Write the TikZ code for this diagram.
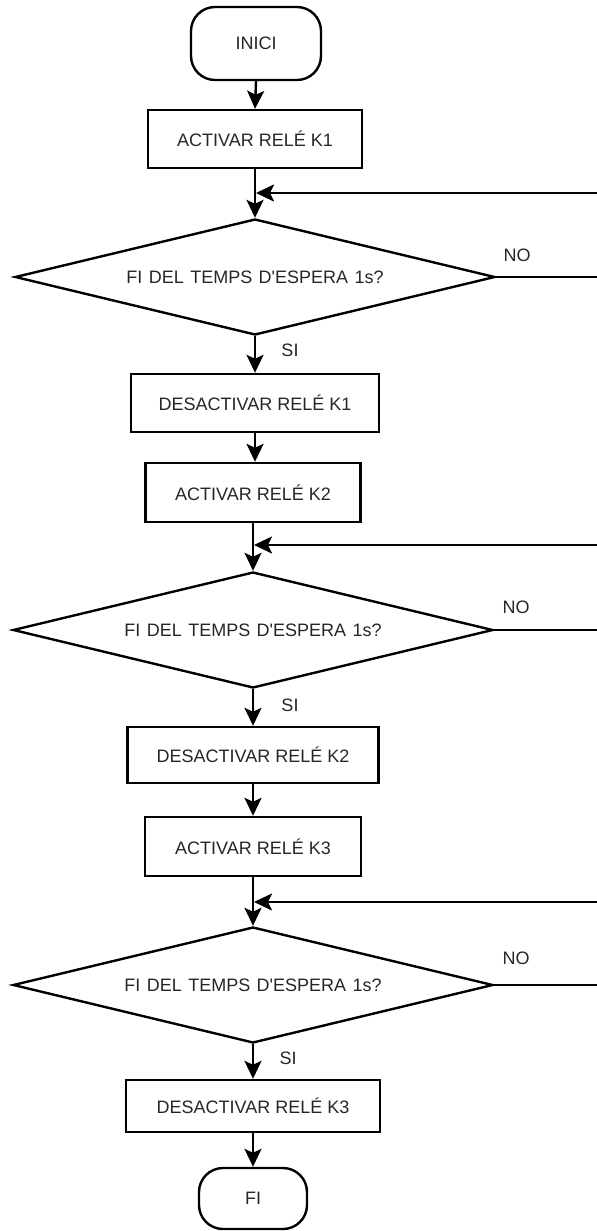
\documentclass[tikz,border=0pt]{standalone}
\usepackage{fontspec}
\setmainfont{Liberation Sans}[Ligatures=TeXOff]
\usetikzlibrary{arrows.meta,shapes.geometric}
\newcommand\waitquestion{\spaceskip=3.2pt\relax FI DEL TEMPS D'ESPERA 1s?}

\begin{document}
\begin{tikzpicture}[x=0.5pt,y=-0.5pt,
  line width=1.2pt,
  every node/.style={font=\fontsize{9}{10}\selectfont, text=black!85},
  sz/.style 2 args={minimum width=#1*0.5pt, minimum height=#2*0.5pt},
  procbox/.style={draw, rectangle, inner sep=0pt},
  termbox/.style={draw, rectangle, rounded corners=12pt, inner sep=0pt},
  decbox/.style={draw, diamond, aspect=4, inner sep=0pt, sz={480}{116}},
  flow/.style={-{Stealth[length=9pt, width=8.5pt, inset=2pt]}},
  lbl/.style={inner sep=0pt}
]
\useasboundingbox (0,0) rectangle (597,1231);
\clip (0,0) rectangle (597,1231);

% ---- nodes ----
\node[termbox, sz={130}{73}] (inici) at (256,43.5) {INICI};
\node[procbox, sz={214}{58}] (act1) at (255,139) {ACTIVAR RELÉ K1};
\node[decbox] (dec1) at (255,277) {\waitquestion};
\node[procbox, sz={248}{58}] (des1) at (255,403) {DESACTIVAR RELÉ K1};
\node[procbox, sz={215}{59}] (act2) at (253,492.5) {ACTIVAR RELÉ K2};
\node[decbox] (dec2) at (253,630) {\waitquestion};
\node[procbox, sz={251}{56}] (des2) at (253,755) {DESACTIVAR RELÉ K2};
\node[procbox, sz={216}{59}] (act3) at (253,846.5) {ACTIVAR RELÉ K3};
\node[decbox] (dec3) at (253,985) {\waitquestion};
\node[procbox, sz={254}{52}] (des3) at (253,1106) {DESACTIVAR RELÉ K3};
\node[termbox, sz={108}{61}] (fi) at (253,1198.5) {FI};

% ---- branch labels ----
\node[lbl] (no1) at (517,255) {NO};
\node[lbl] (no2) at (516,607) {NO};
\node[lbl] (no3) at (516,958) {NO};
\node[lbl] (si1) at (290,350) {SI};
\node[lbl] (si2) at (290,705) {SI};
\node[lbl] (si3) at (288,1058) {SI};

% ---- loop junctions and return corners ----
\coordinate (m1) at (256,193);
\coordinate (m2) at (254,545);
\coordinate (m3) at (254,902);
\coordinate (r1a) at (620,277);
\coordinate (r1b) at (620,193);
\coordinate (r2a) at (620,630);
\coordinate (r2b) at (620,545);
\coordinate (r3a) at (620,985);
\coordinate (r3b) at (620,902);

% ---- main flow ----
\draw[flow] (inici.south) -- (act1.north);
\draw[flow] (act1.south) -- (act1.south |- dec1.north);
\draw[flow] (dec1.south) -- (des1.north);
\draw[flow] (des1.south) -- (des1.south |- act2.north);
\draw[flow] (act2.south) -- (dec2.north);
\draw[flow] (dec2.south) -- (des2.north);
\draw[flow] (des2.south) -- (act3.north);
\draw[flow] (act3.south) -- (dec3.north);
\draw[flow] (dec3.south) -- (des3.north);
\draw[flow] (des3.south) -- (fi.north);

% ---- waiting loops (NO branches) ----
\draw[flow] (dec1.east) -- (r1a) -- (r1b) -- (m1);
\draw[flow] (dec2.east) -- (r2a) -- (r2b) -- (m2);
\draw[flow] (dec3.east) -- (r3a) -- (r3b) -- (m3);
\end{tikzpicture}
\end{document}
